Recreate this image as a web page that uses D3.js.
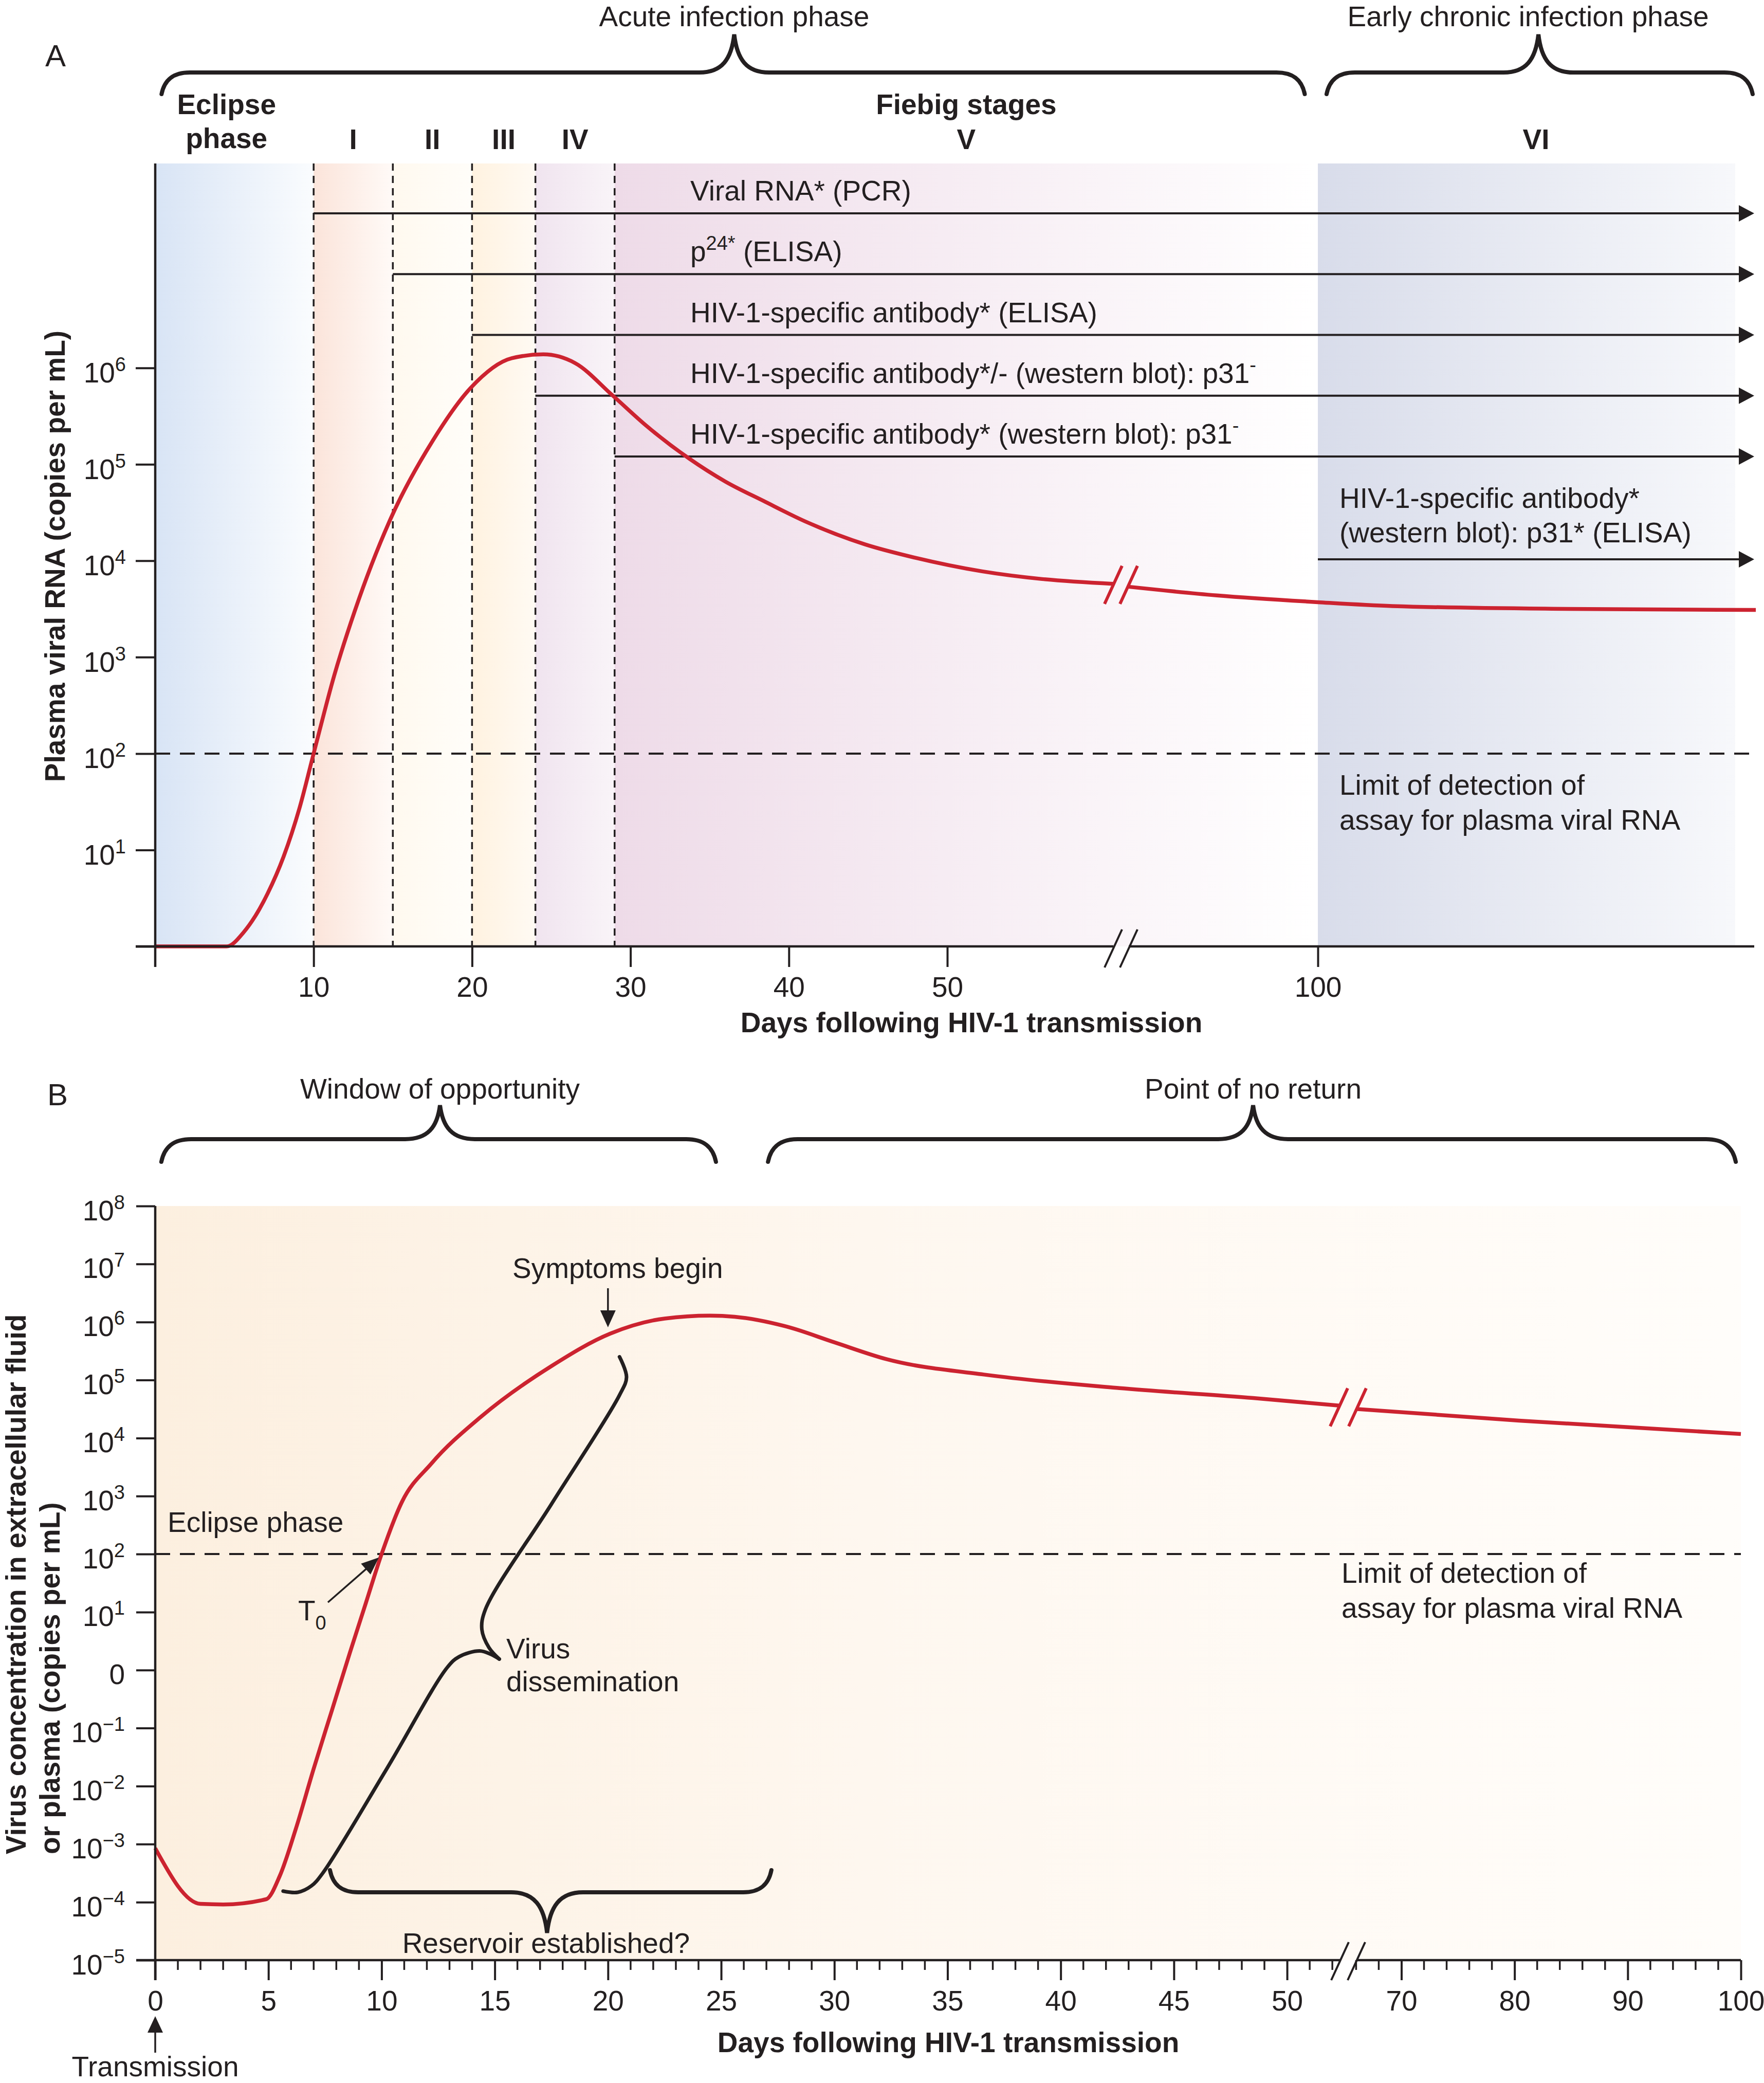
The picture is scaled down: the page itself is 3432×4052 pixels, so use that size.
<!DOCTYPE html>
<html>
<head>
<meta charset="utf-8">
<script src="https://cdn.jsdelivr.net/npm/d3@7/dist/d3.min.js"></script>
<style>
html,body{margin:0;padding:0;background:#fff;}
svg text{font-family:"Liberation Sans",Arial,Helvetica,sans-serif;fill:#231f20;}
</style>
</head>
<body>
<svg id="chart" width="3432" height="4052" xmlns="http://www.w3.org/2000/svg"></svg>
<script>
// ================= DATA : Panel A =================
const stageStartA = [0, 10, 15, 20, 24, 29, 100];
const stageEndA = 126.3;
const stageNamesA = ["", "I", "II", "III", "IV", "V", "VI"];
const stageColorsA = ["#d8e4f5", "#fbe4da", "#fff9ef", "#fff2e0", "#f0e4ef", "#eedbe8", "#d8dcea"];
const stageFadeA = ["#fafcfe", "#fffaf7", "#fffdf9", "#fffaf3", "#f9f4f8", "#ffffff", "#f7f8fb"];
const fiebigDashDaysA = [10, 15, 20, 24, 29];
const assayStartA = [10, 15, 20, 24, 29];
const assayLabelsA = [
  [{t: "Viral RNA* (PCR)"}],
  [{t: "p"}, {t: "24*", sup: true}, {t: " (ELISA)"}],
  [{t: "HIV-1-specific antibody* (ELISA)"}],
  [{t: "HIV-1-specific antibody*/- (western blot): p31"}, {t: "-", sup: true}],
  [{t: "HIV-1-specific antibody* (western blot): p31"}, {t: "-", sup: true}]
];
const chronicAssayStartA = 100;
const chronicAssayLines = ["HIV-1-specific antibody*", "(western blot): p31* (ELISA)"];
const xTicksA = [10, 20, 30, 40, 50, 100];
const yExpA = [1, 2, 3, 4, 5, 6];
const lodLines = ["Limit of detection of", "assay for plasma viral RNA"];
// plasma viral RNA (log10 copies/mL) before and after the axis break
const viralDaysA1 = [0, 4.5, 5.6, 6.3, 7.1, 8.1, 9.1, 10, 11.3, 12.6, 14.9, 17.5, 19.9, 22.5, 24.5, 26.5, 28.9, 31, 33.7, 36, 38.4, 41, 44.8, 48, 52.2, 56, 60.5];
const viralLogA1  = [0, 0, 0.15, 0.31, 0.55, 0.93, 1.43, 2.0, 2.81, 3.48, 4.45, 5.24, 5.79, 6.10, 6.14, 6.05, 5.71, 5.40, 5.06, 4.82, 4.62, 4.41, 4.17, 4.03, 3.89, 3.81, 3.76];
const viralDaysA2 = [62.5, 80, 100, 104.7, 115.7, 127.6];
const viralLogA2  = [3.73, 3.64, 3.57, 3.53, 3.50, 3.49];
const bracesA = [
  {label: "Acute infection phase", from: 0.4, to: 97.4, mid: 36.55, textMid: 36.55},
  {label: "Early chronic infection phase", from: 100.55, to: 127.4, mid: 113.9, textMid: 113.25}
];

// ================= DATA : Panel B =================
const yExpB = [8, 7, 6, 5, 4, 3, 2, 1, 0, -1, -2, -3, -4, -5];
const xMajorB = [0, 5, 10, 15, 20, 25, 30, 35, 40, 45, 50, 70, 80, 90, 100];
const virusDaysB1 = [0, 2.0, 3.0, 4.9, 5.5, 6.2, 7.0, 7.8, 8.6, 9.3, 10.0, 10.9, 12.2, 14.4, 17.5, 20.1, 22.5, 24.5, 25.6, 27.9, 30.0, 32.3, 36.7, 42.6, 48.5, 52.3];
const virusLogB1  = [-3.07, -4.03, -4.04, -3.95, -3.55, -2.75, -1.7, -0.7, 0.3, 1.15, 2.0, 2.9, 3.56, 4.37, 5.24, 5.8, 6.06, 6.11, 6.09, 5.92, 5.65, 5.36, 5.09, 4.86, 4.69, 4.56];
const virusDaysB2 = [66.1, 80.4, 100];
const virusLogB2  = [4.5, 4.3, 4.07];
// "Virus dissemination" brace-shaped path (day, log10)
const dissemLowerDays = [5.65, 6.3, 6.9, 7.4, 10.2, 12.91, 13.42, 14.33, 14.84, 15.2];
const dissemLowerLog  = [-3.81, -3.83, -3.72, -3.5, -1.72, 0.05, 0.23, 0.33, 0.27, 0.19];
const dissemUpperDays = [15.2, 14.74, 14.43, 14.59, 17.5, 20.51, 20.82, 20.51];
const dissemUpperLog  = [0.19, 0.39, 0.70, 1.05, 2.86, 4.74, 5.05, 5.40];
const bracesB = [
  {label: "Window of opportunity", from: 0.27, to: 24.77, mid: 12.58},
  {label: "Point of no return", from: 27.07, to: 99.55, mid: 48.5}
];
const reservoirBrace = {label: "Reservoir established?", from: 7.72, to: 27.22, mid: 17.31};
const symptomsDay = 20;
const t0Day = 9.88;

// ================= SETUP =================
const INK = "#231f20", RED = "#cc2330";
const svg = d3.select("#chart");
const defs = svg.append("defs");
const FS = 55;

function richText(g, x, y, parts, opts = {}) {
  const t = g.append("text").attr("x", x).attr("y", y)
    .attr("font-size", opts.size || FS)
    .attr("text-anchor", opts.anchor || "start")
    .attr("font-weight", opts.bold ? "bold" : "normal");
  parts.forEach(p => {
    if (p.sup) t.append("tspan").attr("dy", -22).attr("font-size", 38).text(p.t);
    else if (p.sub) t.append("tspan").attr("dy", 18).attr("font-size", 38).text(p.t);
    else t.append("tspan").text(p.t);
  });
  const nodes = t.selectAll("tspan").nodes();
  for (let i = 1; i < nodes.length; i++) {
    const prev = parts[i - 1];
    if (prev.sup && !parts[i].sup) d3.select(nodes[i]).attr("dy", 22);
    if (prev.sub && !parts[i].sub) d3.select(nodes[i]).attr("dy", -18);
  }
  return t;
}
function text(g, x, y, s, opts = {}) { return richText(g, x, y, [{t: s}], opts); }

function arrowHead(g, tx, ty, dx, dy, len, hw, color) {
  const n = Math.hypot(dx, dy); const ux = dx / n, uy = dy / n;
  const bx = tx - ux * len, by = ty - uy * len;
  const px = -uy * hw, py = ux * hw;
  g.append("path").attr("d", `M${tx},${ty}L${bx + px},${by + py}L${bx - px},${by - py}Z`)
    .attr("fill", color || INK);
}

function bracePath(x1, x2, xc, yEnd, yLine, yTip, r, w) {
  const p = d3.path();
  const d1 = yEnd - yLine, d2 = yLine - yTip;
  p.moveTo(x1, yEnd);
  p.bezierCurveTo(x1 + r * 0.1, yLine + d1 * 0.35, x1 + r * 0.4, yLine, x1 + r, yLine);
  p.lineTo(xc - w, yLine);
  p.bezierCurveTo(xc - w * 0.35, yLine, xc - w * 0.08, yLine - d2 * 0.35, xc, yTip);
  p.bezierCurveTo(xc + w * 0.08, yLine - d2 * 0.35, xc + w * 0.35, yLine, xc + w, yLine);
  p.lineTo(x2 - r, yLine);
  p.bezierCurveTo(x2 - r * 0.4, yLine, x2 - r * 0.1, yLine + d1 * 0.35, x2, yEnd);
  return p.toString();
}

function slashes(g, cx, cy, gap, color, sw) {
  [-gap / 2, gap / 2].forEach(o => {
    g.append("line").attr("x1", cx + o - 17).attr("y1", cy + 37)
      .attr("x2", cx + o + 17).attr("y2", cy - 37)
      .attr("stroke", color).attr("stroke-width", sw);
  });
}

function hGradient(id, stops) {
  const lg = defs.append("linearGradient").attr("id", id)
    .attr("x1", "0%").attr("x2", "100%").attr("y1", "0%").attr("y2", "0%");
  stops.forEach(s => lg.append("stop").attr("offset", s[0]).attr("stop-color", s[1]));
}

// ================= PANEL A =================
const xA = d3.scaleLinear().domain([0, 50, 61, 100, 127.5]).range([302, 1843, 2181, 2564, 3413]);
const yA = d3.scaleLinear().domain([0, 8.12]).range([1841, 318]);
const gA = svg.append("g");

stageStartA.forEach((s, i) => {
  const e = i < stageStartA.length - 1 ? stageStartA[i + 1] : stageEndA;
  hGradient("stageA" + i, [[0, stageColorsA[i]], [1, stageFadeA[i]]]);
  gA.append("rect").attr("x", xA(s)).attr("y", yA.range()[1])
    .attr("width", xA(e) - xA(s)).attr("height", yA.range()[0] - yA.range()[1])
    .attr("fill", `url(#stageA${i})`);
});

fiebigDashDaysA.forEach(d => {
  gA.append("line").attr("x1", xA(d)).attr("x2", xA(d))
    .attr("y1", yA.range()[1]).attr("y2", yA.range()[0])
    .attr("stroke", INK).attr("stroke-width", 3.5).attr("stroke-dasharray", "14,10");
});

gA.append("line").attr("x1", xA(0)).attr("x2", 3413).attr("y1", yA(2)).attr("y2", yA(2))
  .attr("stroke", INK).attr("stroke-width", 4).attr("stroke-dasharray", "29,19");
lodLines.forEach((l, i) => text(gA, 2606, 1546 + i * 68, l));

const arrowEndA = 3413;
assayStartA.forEach((d, i) => {
  const y = 415 + i * 118.25;
  gA.append("line").attr("x1", xA(d)).attr("x2", arrowEndA - 20).attr("y1", y).attr("y2", y)
    .attr("stroke", INK).attr("stroke-width", 4);
  arrowHead(gA, arrowEndA, y, 1, 0, 30, 16);
  richText(gA, 1343, y - 25, assayLabelsA[i]);
});
{
  const y = 1088;
  gA.append("line").attr("x1", xA(chronicAssayStartA)).attr("x2", arrowEndA - 20).attr("y1", y).attr("y2", y)
    .attr("stroke", INK).attr("stroke-width", 4);
  arrowHead(gA, arrowEndA, y, 1, 0, 30, 16);
  chronicAssayLines.forEach((l, i) => text(gA, 2606, 988 + i * 67, l));
}

const lineA = d3.line().x(d => xA(d[0])).y(d => yA(d[1])).curve(d3.curveMonotoneX);
gA.append("path").attr("d", lineA(viralDaysA1.map((d, i) => [d, viralLogA1[i]])))
  .attr("fill", "none").attr("stroke", RED).attr("stroke-width", 7.5);
gA.append("path").attr("d", lineA(viralDaysA2.map((d, i) => [d, viralLogA2[i]])))
  .attr("fill", "none").attr("stroke", RED).attr("stroke-width", 7.5);
slashes(gA, xA(61), yA(3.75), 30, RED, 6);

const axA = gA.append("g");
axA.append("line").attr("x1", xA(0)).attr("x2", xA(0)).attr("y1", yA.range()[1]).attr("y2", yA(0) + 40)
  .attr("stroke", INK).attr("stroke-width", 4.5);
axA.append("line").attr("x1", xA(0) - 38).attr("x2", xA(61) - 15).attr("y1", yA(0)).attr("y2", yA(0))
  .attr("stroke", INK).attr("stroke-width", 4.5);
axA.append("line").attr("x1", xA(61) + 15).attr("x2", 3413).attr("y1", yA(0)).attr("y2", yA(0))
  .attr("stroke", INK).attr("stroke-width", 4.5);
slashes(axA, xA(61), yA(0) + 4, 30, INK, 4);

const xAxisA = d3.axisBottom(xA).tickValues(xTicksA).tickSize(40).tickFormat(d3.format("d"));
const gxA = axA.append("g").attr("transform", `translate(0,${yA(0)})`).call(xAxisA);
gxA.select(".domain").remove();
gxA.selectAll(".tick line").attr("stroke", INK).attr("stroke-width", 4);
gxA.selectAll(".tick text").attr("y", 98).attr("dy", 0).attr("font-size", FS)
  .attr("font-family", null).style("fill", INK);

const yAxisA = d3.axisLeft(yA).tickValues([0].concat(yExpA)).tickSize(38).tickFormat("");
const gyA = axA.append("g").attr("transform", `translate(${xA(0)},0)`).call(yAxisA);
gyA.select(".domain").remove();
gyA.selectAll(".tick line").attr("stroke", INK).attr("stroke-width", 4);
gyA.selectAll(".tick").each(function (d) {
  if (d === 0) return;
  d3.select(this).select("text").remove();
  richText(d3.select(this), -57, 28, [{t: "10"}, {t: String(d), sup: true}], {anchor: "end"});
});

text(gA, 1890, 2008, "Days following HIV-1 transmission", {anchor: "middle", bold: true});
gA.append("g").attr("transform", "translate(126,1082) rotate(-90)")
  .call(g => text(g, 0, 0, "Plasma viral RNA (copies per mL)", {anchor: "middle", bold: true}));

text(gA, 88, 129, "A", {size: 60});
text(gA, xA(4.5), 222, "Eclipse", {anchor: "middle", bold: true});
text(gA, xA(4.5), 288, "phase", {anchor: "middle", bold: true});
text(gA, (xA(29) + xA(100)) / 2, 222, "Fiebig stages", {anchor: "middle", bold: true});
stageNamesA.forEach((n, i) => {
  if (!n) return;
  const e = i < stageStartA.length - 1 ? stageStartA[i + 1] : 127.5;
  text(gA, (xA(stageStartA[i]) + xA(e)) / 2, 290, n, {anchor: "middle", bold: true});
});

bracesA.forEach(b => {
  gA.append("path").attr("d", bracePath(xA(b.from), xA(b.to), xA(b.mid), 183, 141, 67, 55, 68))
    .attr("fill", "none").attr("stroke", INK).attr("stroke-width", 8).attr("stroke-linecap", "round");
  text(gA, xA(b.textMid), 51, b.label, {anchor: "middle"});
});

// ================= PANEL B =================
const xB = d3.scaleLinear().domain([0, 52.7, 65.3, 100]).range([302, 2623, 2623, 3387]);
const yB = d3.scaleLinear().domain([-5, 8]).range([3813, 2346]);
const gB = svg.append("g");

hGradient("bgB", [[0, "#fcefdf"], [0.45, "#fef7ef"], [1, "#fffdfa"]]);
gB.append("rect").attr("x", xB(0)).attr("y", yB(8)).attr("width", xB(100) - xB(0))
  .attr("height", yB(-5) - yB(8)).attr("fill", "url(#bgB)");

gB.append("line").attr("x1", xB(0)).attr("x2", xB(100)).attr("y1", yB(2)).attr("y2", yB(2))
  .attr("stroke", INK).attr("stroke-width", 4).attr("stroke-dasharray", "29,19");
lodLines.forEach((l, i) => text(gB, 2610, 3079 + i * 68, l));

const lineB = d3.line().x(d => xB(d[0])).y(d => yB(d[1])).curve(d3.curveMonotoneX);
gB.append("path").attr("d", lineB(virusDaysB1.map((d, i) => [d, virusLogB1[i]])))
  .attr("fill", "none").attr("stroke", RED).attr("stroke-width", 7.5).attr("stroke-linejoin", "round");
gB.append("path").attr("d", lineB(virusDaysB2.map((d, i) => [d, virusLogB2[i]])))
  .attr("fill", "none").attr("stroke", RED).attr("stroke-width", 7.5);
slashes(gB, xB(52.7), yB(4.53), 36, RED, 6);

const lineD = d3.line().x(d => xB(d[0])).y(d => yB(d[1])).curve(d3.curveCatmullRom.alpha(0.5));
[[dissemLowerDays, dissemLowerLog], [dissemUpperDays, dissemUpperLog]].forEach(([ds, ls]) => {
  gB.append("path").attr("d", lineD(ds.map((d, i) => [d, ls[i]])))
    .attr("fill", "none").attr("stroke", INK).attr("stroke-width", 7).attr("stroke-linecap", "round");
});

gB.append("path").attr("d", bracePath(xB(reservoirBrace.from), xB(reservoirBrace.to), xB(reservoirBrace.mid),
    3638, 3681, 3760, 55, 70))
  .attr("fill", "none").attr("stroke", INK).attr("stroke-width", 8).attr("stroke-linecap", "round");
text(gB, xB(reservoirBrace.mid) - 2, 3799, reservoirBrace.label, {anchor: "middle"});

bracesB.forEach(b => {
  gB.append("path").attr("d", bracePath(xB(b.from), xB(b.to), xB(b.mid), 2260, 2216, 2150, 58, 68))
    .attr("fill", "none").attr("stroke", INK).attr("stroke-width", 8).attr("stroke-linecap", "round");
  text(gB, xB(b.mid), 2137, b.label, {anchor: "middle"});
});

text(gB, 92, 2150, "B", {size: 60});
text(gB, xB(symptomsDay) + 19, 2486, "Symptoms begin", {anchor: "middle"});
gB.append("line").attr("x1", xB(symptomsDay)).attr("x2", xB(symptomsDay)).attr("y1", 2506).attr("y2", 2555)
  .attr("stroke", INK).attr("stroke-width", 3.5);
arrowHead(gB, xB(symptomsDay), 2582, 0, 1, 33, 15);

text(gB, 326, 2980, "Eclipse phase");
richText(gB, 580, 3152, [{t: "T"}, {t: "0", sub: true}]);
{
  const tx = xB(t0Day), ty = yB(1.94);
  gB.append("line").attr("x1", 638).attr("y1", 3117).attr("x2", tx - 20).attr("y2", ty + 18)
    .attr("stroke", INK).attr("stroke-width", 3.5);
  arrowHead(gB, tx, ty, tx - 638, ty - 3117, 34, 14);
}
text(gB, 985, 3226, "Virus");
text(gB, 985, 3290, "dissemination");

const axB = gB.append("g");
axB.append("line").attr("x1", xB(0)).attr("x2", xB(0)).attr("y1", yB(8)).attr("y2", yB(-5) + 39)
  .attr("stroke", INK).attr("stroke-width", 4.5);
axB.append("line").attr("x1", xB(0) - 37).attr("x2", xB(52.7) - 16).attr("y1", yB(-5)).attr("y2", yB(-5))
  .attr("stroke", INK).attr("stroke-width", 4.5);
axB.append("line").attr("x1", xB(65.3) + 16).attr("x2", xB(100)).attr("y1", yB(-5)).attr("y2", yB(-5))
  .attr("stroke", INK).attr("stroke-width", 4.5);
slashes(axB, xB(52.7), yB(-5) + 2, 32, INK, 4);

const minorB = d3.range(1, 53).concat(d3.range(66, 100, 2)).filter(d => !xMajorB.includes(d));
minorB.forEach(d => {
  axB.append("line").attr("x1", xB(d)).attr("x2", xB(d)).attr("y1", yB(-5)).attr("y2", yB(-5) + 19)
    .attr("stroke", INK).attr("stroke-width", 3.5);
});
const xAxisB = d3.axisBottom(xB).tickValues(xMajorB).tickSize(39).tickFormat(d3.format("d"));
const gxB = axB.append("g").attr("transform", `translate(0,${yB(-5)})`).call(xAxisB);
gxB.select(".domain").remove();
gxB.selectAll(".tick line").attr("stroke", INK).attr("stroke-width", 4);
gxB.selectAll(".tick text").attr("y", 98).attr("dy", 0).attr("font-size", FS)
  .attr("font-family", null).style("fill", INK);

const yAxisB = d3.axisLeft(yB).tickValues(yExpB).tickSize(37).tickFormat("");
const gyB = axB.append("g").attr("transform", `translate(${xB(0)},0)`).call(yAxisB);
gyB.select(".domain").remove();
gyB.selectAll(".tick line").attr("stroke", INK).attr("stroke-width", 4);
gyB.selectAll(".tick").each(function (d) {
  d3.select(this).select("text").remove();
  const parts = d === 0 ? [{t: "0"}] : [{t: "10"}, {t: (d < 0 ? "\u2212" + (-d) : String(d)), sup: true}];
  richText(d3.select(this), -59, 27, parts, {anchor: "end"});
});

gB.append("line").attr("x1", xB(0)).attr("x2", xB(0)).attr("y1", 3993).attr("y2", 3950)
  .attr("stroke", INK).attr("stroke-width", 3.5);
arrowHead(gB, xB(0), 3922, 0, -1, 32, 15);
text(gB, xB(0), 4039, "Transmission", {anchor: "middle"});

text(gB, 1845, 3992, "Days following HIV-1 transmission", {anchor: "middle", bold: true});
gB.append("g").attr("transform", "translate(50,3607) rotate(-90)")
  .call(g => text(g, 0, 0, "Virus concentration in extracellular fluid", {bold: true}));
gB.append("g").attr("transform", "translate(116,3607) rotate(-90)")
  .call(g => text(g, 0, 0, "or plasma (copies per mL)", {bold: true}));
</script>
</body>
</html>
